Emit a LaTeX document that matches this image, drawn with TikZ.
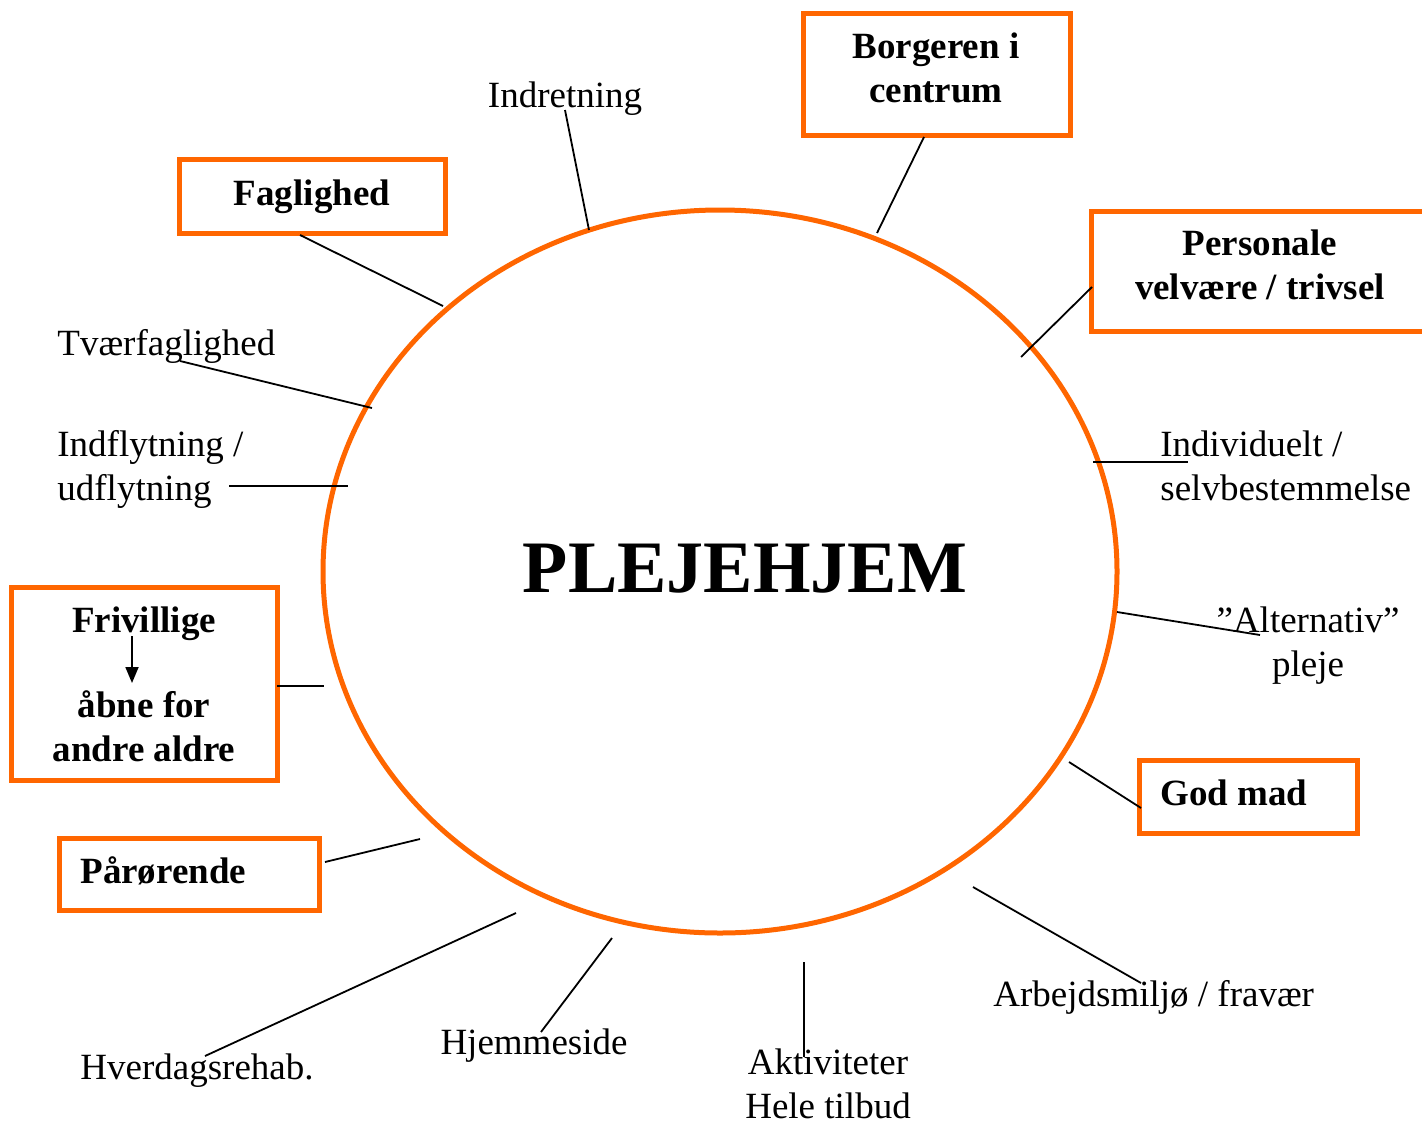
\documentclass[tikz,border=0pt]{standalone}
\usepackage{fontspec}
\setmainfont{Liberation Serif}
\usetikzlibrary{arrows.meta,shapes.geometric}
\definecolor{orng}{RGB}{255,102,0}
\begin{document}
\begin{tikzpicture}[x=0.5pt,y=-0.5pt,
  box/.style={draw=orng,line width=2.5pt,inner sep=0pt,outer sep=0pt},
  lbl/.style={font=\fontsize{18.5}{22}\selectfont,inner sep=0pt,anchor=base,align=center},
  blbl/.style={font=\fontsize{18.5}{22}\selectfont\bfseries,inner sep=0pt,anchor=base,align=center},
  con/.style={line width=0.9pt}]
\useasboundingbox (0,0) rectangle (1422,1124);
\clip (0,0) rectangle (1422,1124);
\fill[white] (0,0) rectangle (1422,1124);

% central ellipse
\node[draw=orng,line width=2.5pt,ellipse,inner sep=0pt,minimum width=397pt,minimum height=361.5pt] (home) at (720,571.5) {};
\node[font=\fontsize{37}{44}\selectfont\bfseries,inner sep=0pt,anchor=base] (pleje) at (745,592) {PLEJEHJEM};

% boxes
\node[box,minimum width=133.5pt,minimum height=61pt] (borg) at (936.5,74) {};
\node[box,minimum width=133pt,minimum height=37pt] (fag) at (312,196) {};
\node[box,minimum width=174.5pt,minimum height=60pt] (pers) at (1265.5,271) {};
\node[box,minimum width=133pt,minimum height=96.5pt] (friv) at (144,683.5) {};
\node[box,minimum width=130pt,minimum height=36pt] (paar) at (189,874) {};
\node[box,minimum width=109pt,minimum height=36.5pt] (god) at (1248,796.5) {};

% texts (multi-line nodes: base anchor = baseline of last line)
\node[lbl] (indr) at (565,107) {Indretning};
\node[blbl] (borgT) at (936,102) {Borgeren i\\centrum};
\node[blbl] (fagT) at (312,205) {Faglighed};
\node[blbl] (persT) at (1260,299) {Personale\\velvære / trivsel};
\node[lbl,anchor=base west,align=left] (tvaer) at (57,355) {Tværfaglighed};
\node[lbl,anchor=base west,align=left] (indfl) at (57,500) {Indflytning /\\udflytning};
\node[lbl,anchor=base west,align=left] (indiv) at (1160,500) {Individuelt /\\selvbestemmelse};
\node[lbl] (alt) at (1308,676) {”Alternativ”\\pleje};
\node[blbl] (frivT) at (144,632) {Frivillige};
\node[blbl] (aabne) at (144,761) {åbne for\\andre aldre};
\node[blbl,anchor=base west] (godT) at (1160,805) {God mad};
\node[blbl,anchor=base west] (paarT) at (80,883) {Pårørende};
\node[lbl,anchor=base west] (arb) at (993,1006) {Arbejdsmiljø / fravær};
\node[lbl] (hjem) at (534,1054) {Hjemmeside};
\node[lbl,anchor=base west] (hverd) at (80,1079) {Hverdagsrehab.};
\node[lbl] (akt) at (828,1118) {Aktiviteter\\Hele tilbud};

% arrow inside Frivillige box
\coordinate (fa1) at (132,636);
\coordinate (fa2) at (132,683);
\draw[con,-{Triangle[length=8pt,width=6.5pt]}] (fa1) -- (fa2);

% connector end points
\coordinate (c1a) at (565,110);  \coordinate (c1b) at (589,230);
\coordinate (c2a) at (924,137);  \coordinate (c2b) at (877,233);
\coordinate (c3a) at (300,235);  \coordinate (c3b) at (443,306);
\coordinate (c4a) at (1092,287); \coordinate (c4b) at (1021,357);
\coordinate (c5a) at (180,361);  \coordinate (c5b) at (372,408);
\coordinate (c6a) at (229,486);  \coordinate (c6b) at (348,486);
\coordinate (c7a) at (1093,462); \coordinate (c7b) at (1188,462);
\coordinate (c8a) at (1117,612); \coordinate (c8b) at (1260,635);
\coordinate (c9a) at (1069,762); \coordinate (c9b) at (1141,808);
\coordinate (c10a) at (277,686); \coordinate (c10b) at (324,686);
\coordinate (c11a) at (325,862); \coordinate (c11b) at (420,839);
\coordinate (c12a) at (205,1056); \coordinate (c12b) at (516,913);
\coordinate (c13a) at (541,1032); \coordinate (c13b) at (612,938);
\coordinate (c14a) at (804,962); \coordinate (c14b) at (804,1057);
\coordinate (c15a) at (973,887); \coordinate (c15b) at (1141,983);

\draw[con] (c1a) -- (c1b);
\draw[con] (c2a) -- (c2b);
\draw[con] (c3a) -- (c3b);
\draw[con] (c4a) -- (c4b);
\draw[con] (c5a) -- (c5b);
\draw[con] (c6a) -- (c6b);
\draw[con] (c7a) -- (c7b);
\draw[con] (c8a) -- (c8b);
\draw[con] (c9a) -- (c9b);
\draw[con] (c10a) -- (c10b);
\draw[con] (c11a) -- (c11b);
\draw[con] (c12a) -- (c12b);
\draw[con] (c13a) -- (c13b);
\draw[con] (c14a) -- (c14b);
\draw[con] (c15a) -- (c15b);
\end{tikzpicture}
\end{document}
